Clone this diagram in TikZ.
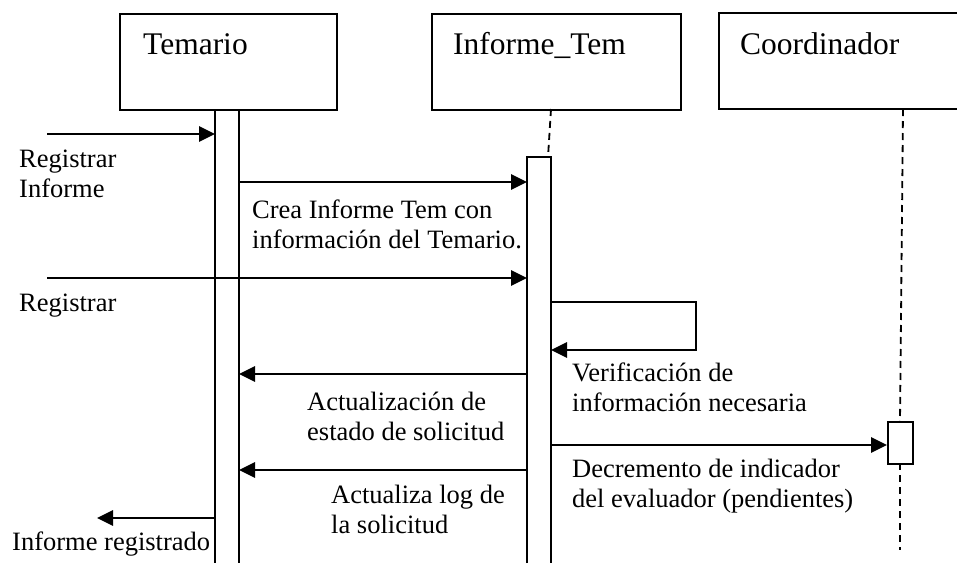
\documentclass[tikz,border=0pt]{standalone}
\usepackage{fontspec}
\setmainfont{Liberation Serif}
\usetikzlibrary{arrows.meta}
\begin{document}
\begin{tikzpicture}[x=1pt,y=-1pt,
  lbl/.style={font=\fontsize{26.5}{30}\selectfont, align=left, inner sep=0pt, anchor=base west},
  hdr/.style={font=\fontsize{31.5}{36}\selectfont, inner sep=0pt, anchor=base west},
  objbox/.style={draw, line width=1.9pt, inner sep=0pt, anchor=north west},
  msg/.style={line width=2.8pt, -{Triangle[length=16pt,width=15pt]}},
  life/.style={line width=1.8pt, dash pattern=on 7pt off 5pt},
  bar/.style={line width=1.9pt}]
\useasboundingbox (0,0) rectangle (957,563);

% object boxes
\node[objbox, minimum width=217pt, minimum height=96pt] (temBox) at (119,13) {};
\node[hdr] (temT) at (143,54) {Temario};
\node[objbox, minimum width=249pt, minimum height=96pt] (infBox) at (431,13) {};
\node[hdr] (infT) at (453,54) {Informe\_Tem};
\coordinate (coTR) at (957,13);
\coordinate (coTL) at (719,13);
\coordinate (coBL) at (719,109);
\coordinate (coBR) at (957,109);
\draw[line width=1.9pt] (coTR) -- (coTL) -- (coBL) -- (coBR);
\node[hdr] (coT) at (740,54) {Coordinador};

% Temario activation
\coordinate (tbL) at (215,109); \coordinate (tbLe) at (215,563);
\coordinate (tbR) at (239,109); \coordinate (tbRe) at (239,563);
\draw[bar] (tbL) -- (tbLe);
\draw[bar] (tbR) -- (tbRe);

% Informe_Tem lifeline + activation
\coordinate (ilTop) at (551,109); \coordinate (ilBot) at (548,157);
\draw[life] (ilTop) -- (ilBot);
\coordinate (ibLe) at (527,563); \coordinate (ibTL) at (527,157);
\coordinate (ibTR) at (551,157); \coordinate (ibRe) at (551,563);
\draw[bar] (ibLe) -- (ibTL) -- (ibTR) -- (ibRe);

% Coordinador lifeline + activation
\coordinate (clTop) at (903,109); \coordinate (clA) at (900,421);
\coordinate (clB) at (900,463); \coordinate (clBot) at (900,550);
\draw[life] (clTop) -- (clA);
\draw[life] (clB) -- (clBot);
\node[draw, bar, fill=white, inner sep=0pt, minimum width=25pt, minimum height=42pt, anchor=north west] (cAct) at (887,421) {};

% messages
\coordinate (m1a) at (47,134); \coordinate (m1b) at (215,134);
\draw[msg] (m1a) -- (m1b);
\node[lbl] (l1) at (19,197) {Registrar\\Informe};

\coordinate (m2a) at (239,182); \coordinate (m2b) at (527,182);
\draw[msg] (m2a) -- (m2b);
\node[lbl] (l2) at (252,248) {Crea Informe Tem con\\información del Temario.};

\coordinate (m3a) at (47,278); \coordinate (m3b) at (527,278);
\draw[msg] (m3a) -- (m3b);
\node[lbl] (l3) at (19,311) {Registrar};

\coordinate (m4a) at (551,302); \coordinate (m4b) at (696,302);
\coordinate (m4c) at (696,350); \coordinate (m4d) at (551,350);
\draw[msg] (m4a) -- (m4b) -- (m4c) -- (m4d);
\node[lbl] (l4) at (572,411) {Verificación de\\información necesaria};

\coordinate (m5a) at (527,374); \coordinate (m5b) at (239,374);
\draw[msg] (m5a) -- (m5b);
\node[lbl] (l5) at (307,440) {Actualización de\\estado de solicitud};

\coordinate (m6a) at (551,445); \coordinate (m6b) at (887,445);
\draw[msg] (m6a) -- (m6b);
\node[lbl] (l6) at (572,507) {Decremento de indicador\\del evaluador (pendientes)};

\coordinate (m7a) at (527,470); \coordinate (m7b) at (239,470);
\draw[msg] (m7a) -- (m7b);
\node[lbl] (l7) at (331,533) {Actualiza log de\\la solicitud};

\coordinate (m8a) at (215,518); \coordinate (m8b) at (97,518);
\draw[msg] (m8a) -- (m8b);
\node[lbl] (l8) at (12,550) {Informe registrado};
\end{tikzpicture}
\end{document}
